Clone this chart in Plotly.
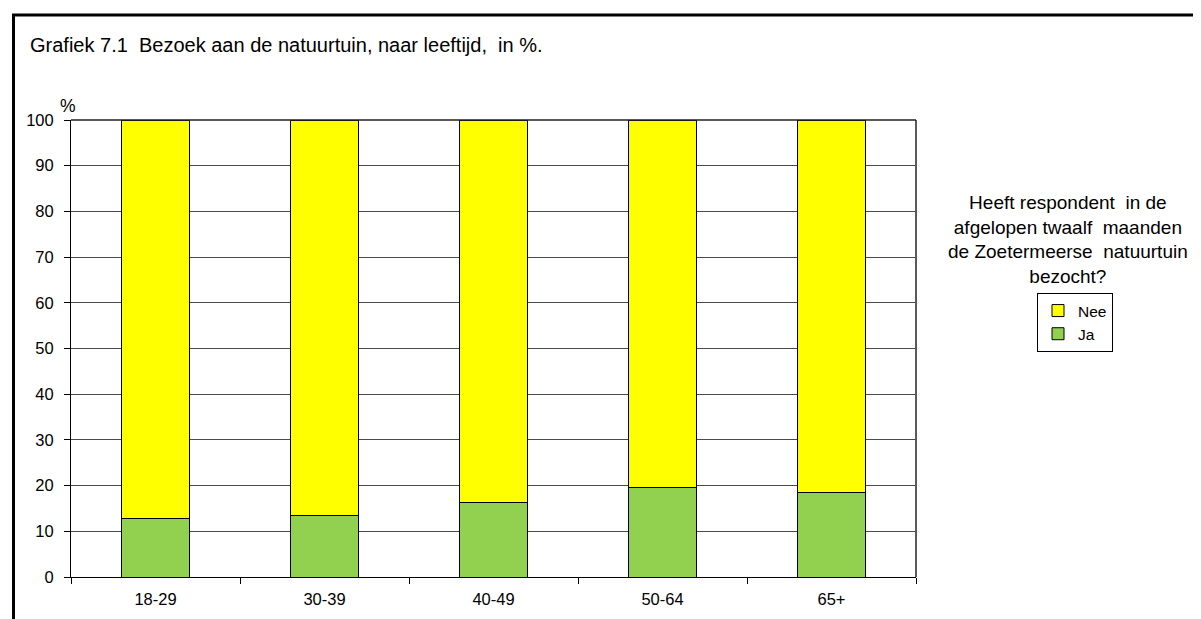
import plotly.graph_objects as go

categories = ["18-29", "30-39", "40-49", "50-64", "65+"]
ja = [12.7, 13.4, 16.2, 19.6, 18.4]
nee = [87.3, 86.6, 83.8, 80.4, 81.6]
y_ticks = [0, 10, 20, 30, 40, 50, 60, 70, 80, 90, 100]

OFF = 8  # page body margin
W, H = 1201 - OFF, 619 - OFF
# plot area in page pixels
PL, PR, PT, PB = 71, 916, 120, 577
L, R, T, B = PL - OFF, PR - OFF, PT - OFF, PB - OFF
pw, ph = R - L, B - T


def px(x):
    return (x - PL) / pw


def py(y):
    return (PB - y) / ph


FONT = "Liberation Sans, Arial, sans-serif"

fig = go.Figure()
fig.add_trace(go.Bar(x=categories, y=ja, name="Ja", legendgroup="ja",
                     marker=dict(color="#92D050", line=dict(color="#000000", width=1))))
fig.add_trace(go.Bar(x=categories, y=nee, name="Nee", legendgroup="nee",
                     marker=dict(color="#FFFF00", line=dict(color="#000000", width=1))))

fig.update_layout(
    width=W, height=H,
    margin=dict(l=L, r=W - R, t=T, b=H - B, pad=0),
    paper_bgcolor="white", plot_bgcolor="white",
    barmode="stack", bargap=0.6,
    font=dict(family=FONT, size=16, color="black"),
    showlegend=True,
    legend=dict(x=px(1037), y=py(293), xanchor="left", yanchor="top",
                traceorder="reversed", bordercolor="black", borderwidth=1,
                bgcolor="white", font=dict(size=15.5, family=FONT),
                itemwidth=30, tracegroupgap=6),
    xaxis=dict(type="category", showgrid=False, showline=True, linecolor="black",
               linewidth=1, mirror=False, ticks="outside", ticklen=6,
               tickcolor="black", tickson="boundaries", tickfont=dict(size=16.5),
               ticklabelstandoff=7),
    yaxis=dict(range=[0, 100], tickvals=y_ticks, showgrid=True, gridcolor="#4a4a4a",
               gridwidth=1, showline=True, linecolor="black", linewidth=1,
               ticks="outside", ticklen=6, tickcolor="black", zeroline=False,
               tickfont=dict(size=16.5), ticklabelstandoff=7),
)

# right plot border (grey)
fig.add_shape(type="line", xref="paper", yref="paper", x0=1, x1=1, y0=0, y1=1,
              line=dict(color="#5a5a5a", width=2))
# top plot border
fig.add_shape(type="line", xref="paper", yref="paper", x0=0, x1=1, y0=1, y1=1,
              line=dict(color="#222222", width=1.5))

# outer frame (left and top thick black lines)
fig.add_shape(type="line", xref="paper", yref="paper", x0=px(13.5), x1=px(13.5),
              y0=py(14), y1=py(650), line=dict(color="black", width=3))
fig.add_shape(type="line", xref="paper", yref="paper", x0=px(12), x1=px(1230),
              y0=py(15), y1=py(15), line=dict(color="black", width=3))

fig.add_annotation(text="Grafiek 7.1  Bezoek aan de natuurtuin, naar leeftijd,  in %.",
                   xref="paper", yref="paper", x=px(28), y=py(45),
                   xanchor="left", yanchor="middle", showarrow=False,
                   font=dict(size=20, family=FONT))
fig.add_annotation(text="%", xref="paper", yref="paper", x=px(68), y=py(106),
                   xanchor="center", yanchor="middle", showarrow=False,
                   font=dict(size=17.5, family=FONT))
fig.add_annotation(text="Heeft respondent  in de<br>afgelopen twaalf  maanden<br>de Zoetermeerse  natuurtuin<br>bezocht?",
                   xref="paper", yref="paper", x=px(1068), y=py(239),
                   xanchor="center", yanchor="middle", showarrow=False,
                   align="center", font=dict(size=19, family=FONT))

fig.write_html("out.html")
